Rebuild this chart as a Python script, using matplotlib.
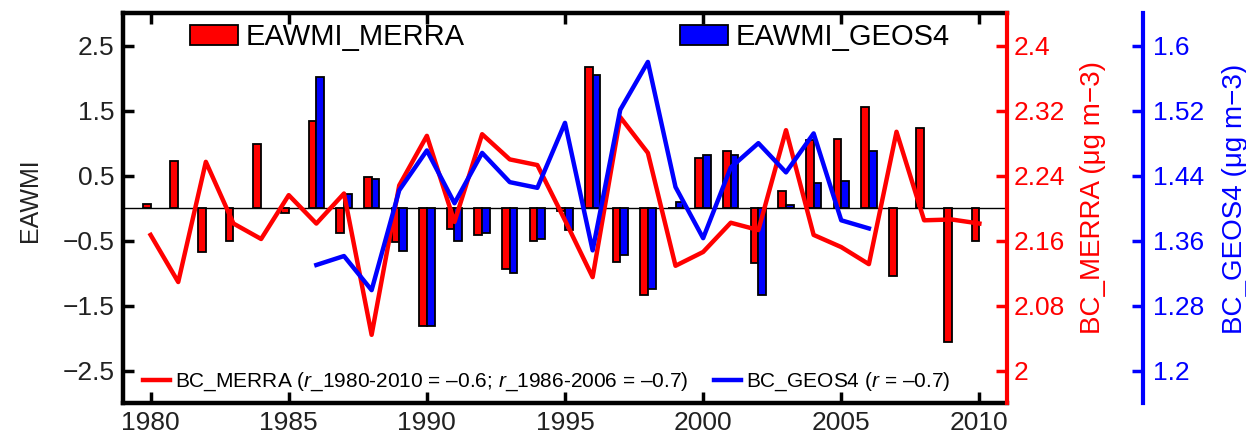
import matplotlib
matplotlib.use('Agg')
import matplotlib.pyplot as plt
import numpy as np

plt.rcParams['font.family'] = ['Liberation Sans', 'DejaVu Sans']
plt.rcParams['mathtext.fontset'] = 'custom'
plt.rcParams['mathtext.it'] = 'Liberation Sans:italic'
plt.rcParams['mathtext.rm'] = 'Liberation Sans'

years = list(range(1980, 2011))
geos_years = list(range(1986, 2007))

eawmi_merra = [0.07, 0.73, -0.68, -0.50, 0.98, -0.08, 1.34, -0.38, 0.48, -0.52,
               -1.82, -0.32, -0.42, -0.94, -0.51, -0.05, 2.17, -0.83, -1.33, 0.0,
               0.77, 0.88, -0.85, 0.27, 1.05, 1.06, 1.56, -1.05, 1.23, -2.06, -0.50]
eawmi_geos4 = [2.02, 0.22, 0.45, -0.66, -1.82, -0.50, -0.38, -1.00, -0.48, -0.34,
               2.05, -0.72, -1.25, 0.10, 0.82, 0.82, -1.34, 0.05, 0.39, 0.42, 0.88]

bc_merra = [2.167, 2.109, 2.257, 2.181, 2.162, 2.216, 2.181, 2.218, 2.044, 2.228,
            2.289, 2.183, 2.291, 2.260, 2.253, 2.185, 2.115, 2.312, 2.268, 2.129,
            2.146, 2.182, 2.173, 2.296, 2.167, 2.152, 2.131, 2.294, 2.185, 2.186, 2.181]
bc_geos4 = [1.330, 1.341, 1.299, 1.422, 1.471, 1.406, 1.468, 1.432, 1.425, 1.505,
            1.348, 1.521, 1.580, 1.426, 1.363, 1.450, 1.480, 1.444, 1.492, 1.385, 1.375]

eawmi_ticks = [-2.5, -1.5, -0.5, 0.5, 1.5, 2.5]
merra_ticks = [2.0, 2.08, 2.16, 2.24, 2.32, 2.4]
merra_labels = ['2', '2.08', '2.16', '2.24', '2.32', '2.4']
geos_ticks = [1.2, 1.28, 1.36, 1.44, 1.52, 1.6]
geos_labels = ['1.2', '1.28', '1.36', '1.44', '1.52', '1.6']

fig = plt.figure(figsize=(12.46, 4.4), dpi=100)
ax = fig.add_axes([0.0987, 0.084, 0.7095, 0.886])

yr = np.array(years)
gyr = np.array(geos_years)
ax.bar(yr - 0.14, eawmi_merra, 0.28, color='red', edgecolor='black', lw=1.3,
       label='EAWMI_MERRA', zorder=2)
ax.bar(gyr + 0.14, eawmi_geos4, 0.28, color='blue', edgecolor='black', lw=1.3,
       label='EAWMI_GEOS4', zorder=2)
ax.axhline(0, color='black', lw=1, zorder=1)

ax.set_xlim(1979, 2011)
ax.set_ylim(-3, 3)
ax.set_xticks(range(1980, 2011, 5))
ax.set_yticks(eawmi_ticks)
ax.tick_params(direction='in', length=8, width=2.5, top=True, colors='black',
               labelcolor='#222222')
ax.tick_params(axis='x', labelsize=19, pad=6)
ax.tick_params(axis='y', labelsize=19, pad=6)
for s in ['left', 'bottom', 'top']:
    ax.spines[s].set_linewidth(3.2)
ax.spines['right'].set_visible(False)
ax.set_ylabel('EAWMI', fontsize=18, color='#222222')
ax.yaxis.set_label_coords(-0.092, 0.52)

ax.legend(loc='upper left', bbox_to_anchor=(0.0758, 0.975), ncol=2, frameon=False,
          fontsize=21, handlelength=1.65, handleheight=0.7, columnspacing=7.4,
          handletextpad=0.25, borderpad=0, borderaxespad=0)

# BC_MERRA axis (red)
ax2 = ax.twinx()
l1, = ax2.plot(yr, bc_merra, color='red', lw=3.2,
               label='BC_MERRA ($r$_1980-2010 = \u20130.6; $r$_1986-2006 = \u20130.7)')
ax2.set_ylim(1.96, 2.44)
ax2.set_yticks(merra_ticks)
ax2.set_yticklabels(merra_labels)
for s in ['left', 'bottom', 'top']:
    ax2.spines[s].set_visible(False)
ax2.spines['right'].set_color('red')
ax2.spines['right'].set_linewidth(3)
ax2.tick_params(axis='y', direction='in', length=8, width=2.5, colors='red',
                labelsize=19, pad=5)
ax2.set_ylabel('BC_MERRA (\u03bcg m\u22123)', fontsize=20, color='red')
ax2.yaxis.set_label_coords(1.083, 0.528)

# BC_GEOS4 axis (blue)
ax3 = ax.twinx()
ax3.spines['right'].set_position(('axes', 1.154))
l2, = ax3.plot(gyr, bc_geos4, color='blue', lw=3.2,
               label='BC_GEOS4 ($r$ = \u20130.7)')
ax3.set_ylim(1.16, 1.64)
ax3.set_yticks(geos_ticks)
ax3.set_yticklabels(geos_labels)
for s in ['left', 'bottom', 'top']:
    ax3.spines[s].set_visible(False)
ax3.spines['right'].set_color('blue')
ax3.spines['right'].set_linewidth(3)
ax3.tick_params(axis='y', direction='in', length=8, width=2.5, colors='blue',
                labelsize=19, pad=7)
ax3.set_ylabel('BC_GEOS4 (\u03bcg m\u22123)', fontsize=20, color='blue')
ax3.yaxis.set_label_coords(1.243, 0.523)

ax3.legend(handles=[l1, l2], loc='lower left', bbox_to_anchor=(0.0226, 0.025), ncol=2,
           frameon=False, fontsize=15, handlelength=1.3, handletextpad=0.25,
           columnspacing=1.2, borderpad=0, borderaxespad=0)

fig.savefig('out.png', dpi=100)
